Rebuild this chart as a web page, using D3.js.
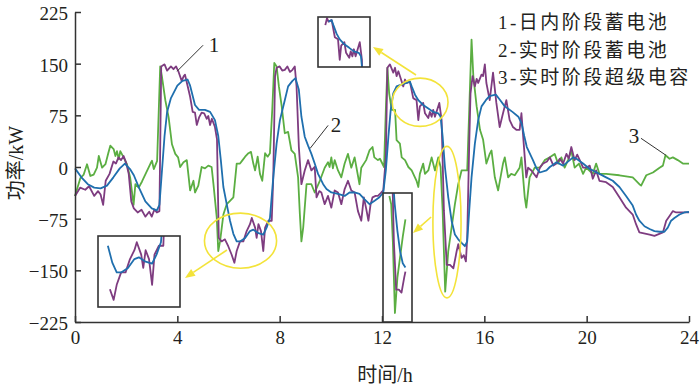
<!DOCTYPE html>
<html>
<head>
<meta charset="utf-8">
<script src="https://cdn.jsdelivr.net/npm/d3@7"></script>
<style>
  body { margin: 0; background: #fff; }
  svg { display: block; }
  text { font-family: "Liberation Serif", "Noto Sans CJK SC", serif; fill: #231f20; }
</style>
</head>
<body>
<div id="chart"></div>
<script>
// ---- data (hour, kW) ----
const hourTicks = [0, 4, 8, 12, 16, 20, 24];
const powerTicks = [-225, -150, -75, 0, 75, 150, 225];
const seriesNames = ['1-日内阶段蓄电池', '2-实时阶段蓄电池', '3-实时阶段超级电容'];

// 1 - intraday battery (purple)
const battIntraday = [[0,-42],[0.2,-30],[0.4,-33],[0.55,-28],[0.75,-42],[0.9,-35],[1.0,-40],[1.1,-55],[1.2,-20],[1.35,-10],[1.5,8],[1.6,5],[1.7,14],[1.8,10],[1.9,16],[2.0,6],[2.1,-10],[2.2,-50],[2.3,-60],[2.45,-66],[2.6,-62],[2.75,-72],[2.9,-65],[3.0,-72],[3.1,-62],[3.2,-66],[3.3,-64],[3.37,146],[3.5,149],[3.6,140],[3.75,146],[3.85,142],[3.95,146],[4.05,138],[4.17,125],[4.25,132],[4.3,134],[4.4,118],[4.5,102],[4.6,80],[4.69,79],[4.76,61],[4.85,72],[4.95,79],[5.05,78],[5.15,70],[5.21,74],[5.28,61],[5.35,70],[5.47,58],[5.55,40],[5.62,-103],[5.73,-108],[5.86,-105],[5.99,-115],[6.12,-127],[6.23,-139],[6.32,-122],[6.45,-108],[6.58,-108],[6.71,-93],[6.84,-83],[6.91,-74],[7.04,-88],[7.1,-103],[7.17,-83],[7.27,-93],[7.36,-122],[7.43,-88],[7.56,-78],[7.69,-78],[7.75,-15],[7.82,132],[7.88,144],[8.0,146],[8.1,140],[8.2,141],[8.3,146],[8.4,138],[8.5,141],[8.59,146],[8.66,117],[8.75,29],[8.85,-25],[8.98,-5],[9.11,10],[9.24,-5],[9.37,0],[9.44,-44],[9.55,-35],[9.63,-37],[9.76,-54],[9.89,-42],[10.02,-59],[10.15,-34],[10.28,-37],[10.41,-54],[10.54,-32],[10.67,-20],[10.8,-34],[10.93,-37],[11.06,-64],[11.19,-78],[11.29,-44],[11.38,-60],[11.47,-78],[11.55,-55],[11.63,-44],[11.75,-42],[11.84,-42],[11.95,-38],[12.05,-34],[12.15,14],[12.21,144],[12.31,149],[12.44,137],[12.51,144],[12.57,132],[12.64,139],[12.7,132],[12.83,117],[12.9,127],[12.96,122],[13.09,124],[13.22,100],[13.35,97],[13.42,68],[13.48,88],[13.61,93],[13.68,78],[13.81,71],[13.87,80],[13.94,73],[14.0,83],[14.07,73],[14.24,93],[14.33,68],[14.37,10],[14.42,-63],[14.53,-142],[14.66,-142],[14.79,-147],[14.92,-122],[14.98,-112],[15.11,-132],[15.2,-128],[15.28,-137],[15.33,-103],[15.41,34],[15.46,107],[15.54,132],[15.63,117],[15.7,128],[15.76,122],[15.89,134],[15.95,132],[16.02,149],[16.08,122],[16.21,97],[16.34,137],[16.47,93],[16.6,58],[16.73,78],[16.86,97],[16.99,68],[17.12,58],[17.25,54],[17.38,54],[17.45,78],[17.58,14],[17.64,-15],[17.71,-1],[17.84,-5],[18.04,-15],[18.17,-1],[18.3,5],[18.45,8],[18.56,14],[18.7,2],[18.82,5],[18.95,12],[19.08,5],[19.21,19],[19.3,12],[19.4,29],[19.53,10],[19.63,18],[19.73,10],[19.86,-1],[19.98,-1],[20.12,2],[20.24,-17],[20.37,-5],[20.5,-20],[20.76,-22],[21.02,-29],[21.28,-44],[21.54,-59],[21.8,-69],[21.93,-83],[22.06,-95],[22.46,-98],[22.65,-100],[22.98,-95],[23.11,-78],[23.24,-71],[23.37,-64],[23.5,-66],[23.63,-66],[24,-66]];

// 2 - real-time battery (blue)
const battRealtime = [[0,-2],[0.25,-15],[0.5,-25],[0.75,-30],[1.0,-31],[1.25,-27],[1.5,-15],[1.75,-2],[1.95,5],[2.15,-3],[2.3,-12],[2.5,-30],[2.75,-50],[3.0,-60],[3.2,-63],[3.3,-55],[3.4,-5],[3.5,45],[3.6,80],[3.75,100],[4.0,118],[4.2,125],[4.4,127],[4.5,118],[4.69,90],[4.85,83],[5.08,83],[5.28,80],[5.47,68],[5.6,45],[5.7,10],[5.8,-29],[5.93,-54],[6.06,-78],[6.19,-97],[6.32,-108],[6.45,-108],[6.65,-103],[6.84,-93],[6.97,-91],[7.17,-96],[7.36,-98],[7.49,-88],[7.62,-74],[7.75,-15],[7.88,34],[8.01,68],[8.2,97],[8.33,117],[8.5,125],[8.62,129],[8.75,112],[8.85,73],[8.98,44],[9.11,31],[9.24,19],[9.37,5],[9.5,-10],[9.7,-25],[9.83,-32],[10.02,-37],[10.28,-39],[10.54,-42],[10.73,-37],[10.93,-37],[11.12,-39],[11.32,-47],[11.51,-54],[11.71,-49],[11.9,-44],[12.05,-37],[12.15,-5],[12.25,44],[12.34,83],[12.44,107],[12.57,117],[12.7,119],[12.96,122],[13.09,124],[13.16,117],[13.29,105],[13.42,97],[13.61,90],[13.81,85],[14.0,80],[14.2,78],[14.29,73],[14.37,44],[14.46,0],[14.59,-44],[14.72,-78],[14.85,-98],[14.98,-105],[15.11,-110],[15.24,-115],[15.33,-108],[15.41,-63],[15.5,-15],[15.63,34],[15.76,68],[15.89,88],[16.06,97],[16.2,103],[16.45,105],[16.6,98],[16.8,88],[17.1,80],[17.33,73],[17.46,63],[17.56,45],[17.66,29],[17.9,10],[18.04,-2],[18.17,-8],[18.43,-5],[18.56,0],[18.82,7],[19.08,2],[19.34,10],[19.47,14],[19.6,12],[19.86,5],[20.12,-3],[20.24,-5],[20.5,-10],[20.76,-15],[21.02,-20],[21.28,-29],[21.54,-42],[21.8,-56],[21.93,-69],[22.06,-78],[22.26,-86],[22.46,-90],[22.65,-93],[22.85,-94],[23.04,-94],[23.17,-88],[23.3,-78],[23.43,-74],[23.63,-69],[23.82,-66],[24,-65]];

// 3 - real-time supercapacitor (green)
const superCap = [[0,-42],[0.21,-16],[0.34,-11],[0.47,4],[0.6,-13],[0.73,-11],[0.86,-1],[0.93,16],[1.06,-1],[1.19,4],[1.3,20],[1.38,31],[1.51,26],[1.58,16],[1.64,23],[1.71,11],[1.77,23],[1.9,14],[2.03,4],[2.16,-16],[2.29,-55],[2.36,-25],[2.49,-30],[2.62,-21],[2.81,-6],[2.95,5],[3.01,9],[3.08,-3],[3.21,9],[3.33,146],[3.4,131],[3.53,97],[3.66,72],[3.79,33],[3.92,19],[4.03,14],[4.11,0],[4.24,7],[4.37,10],[4.5,-34],[4.63,-20],[4.69,-37],[4.82,-27],[4.95,0],[5.08,-2],[5.21,2],[5.34,0],[5.41,-24],[5.54,-73],[5.6,-122],[5.67,-108],[5.8,-69],[5.93,-54],[6.06,-49],[6.19,-44],[6.32,5],[6.45,5],[6.55,10],[6.65,15],[6.78,20],[6.88,22],[6.97,5],[7.04,-5],[7.14,15],[7.23,-10],[7.32,-20],[7.43,20],[7.53,15],[7.62,20],[7.71,83],[7.79,151],[7.88,146],[7.97,117],[8.08,88],[8.2,49],[8.33,51],[8.46,24],[8.59,19],[8.72,-15],[8.79,-69],[8.85,-108],[8.92,-88],[9.05,-25],[9.24,-25],[9.37,-37],[9.57,-20],[9.76,-1],[9.89,7],[9.95,0],[10.02,14],[10.08,-2],[10.15,10],[10.28,-5],[10.41,-15],[10.54,5],[10.67,19],[10.8,-1],[10.93,14],[11.12,-25],[11.19,-1],[11.38,10],[11.51,24],[11.63,29],[11.7,14],[11.84,10],[11.92,12],[12.08,0],[12.15,83],[12.21,144],[12.28,107],[12.38,83],[12.51,83],[12.57,39],[12.7,34],[12.77,14],[12.9,10],[13.03,0],[13.16,-5],[13.35,-20],[13.42,-29],[13.48,-10],[13.61,5],[13.68,-10],[13.81,-5],[13.94,14],[14.07,-5],[14.2,14],[14.29,0],[14.37,-63],[14.47,-181],[14.59,-122],[14.72,-88],[14.85,-54],[14.98,-25],[15.11,-5],[15.33,-5],[15.41,83],[15.5,185],[15.57,132],[15.7,88],[15.83,54],[15.95,40],[16.08,5],[16.21,19],[16.28,24],[16.41,-15],[16.54,-34],[16.73,5],[16.8,14],[16.93,-15],[17.05,-10],[17.19,-12],[17.38,-1],[17.45,14],[17.58,-44],[17.64,-59],[17.77,-15],[17.97,-1],[18.17,-1],[18.36,10],[18.56,14],[18.75,19],[18.88,5],[19.01,14],[19.14,-1],[19.27,10],[19.4,24],[19.53,-1],[19.7,5],[19.86,-10],[19.98,-1],[20.24,-10],[20.37,5],[20.5,-10],[20.76,-10],[21.28,-12],[21.8,-15],[22.06,-25],[22.13,-27],[22.33,-12],[22.59,-8],[22.85,-1],[22.98,2],[23.08,17],[23.24,12],[23.37,14],[23.56,10],[23.76,5],[24,5]];

// circled regions: centre hour, centre kW, half-width (h), half-height (kW)
const circledRegions = [[6.47, -107, 1.41, 40], [13.49, 94, 1.09, 35], [14.54, -80, 0.55, 110]];
// number labels: hour, kW where the leader touches the curve
const labelPoints = [[3.99, 139], [9.19, 27], [23.1, 17]];

// ---- layout ----
const W = 700, H = 388;
const colors = ['#7e3c80', '#1f6fae', '#5bae42'];
const series = [battIntraday, battRealtime, superCap];
const drawOrder = [2, 0, 1];

const x = d3.scaleLinear().domain([0, 24]).range([75, 689]);
const y = d3.scaleLinear().domain([-225, 225]).range([322, 12]);

const svg = d3.select('#chart').append('svg').attr('width', W).attr('height', H);

const line = (sx, sy) => d3.line().x(d => sx(d[0])).y(d => sy(d[1]));

// main curves
drawOrder.forEach(i => {
  svg.append('path').datum(series[i])
    .attr('fill', 'none').attr('stroke', colors[i]).attr('stroke-width', 1.8)
    .attr('stroke-linejoin', 'round').attr('d', line(x, y));
});

// axes (ticks pointing inward)
const fmt = d => d < 0 ? '\u2212' + Math.abs(d) : String(d);
const yAxis = svg.append('g').attr('transform', `translate(${x(0)},0)`)
  .call(d3.axisLeft(y).tickValues(powerTicks).tickSize(-6).tickSizeOuter(0).tickPadding(7).tickFormat(fmt));
const xAxis = svg.append('g').attr('transform', `translate(0,${y(-225)})`)
  .call(d3.axisBottom(x).tickValues(hourTicks).tickSize(-6).tickSizeOuter(0).tickPadding(9));
[xAxis, yAxis].forEach(a => {
  a.selectAll('path,line').attr('stroke', '#333').attr('stroke-width', 1.5);
  a.selectAll('text').attr('font-size', 19).attr('fill', '#231f20')
    .style('font-family', '"Liberation Serif", serif');
});
yAxis.selectAll('text').attr('dy', '0.4em');

svg.append('text').attr('x', 385).attr('y', 382).attr('text-anchor', 'middle')
  .attr('font-size', 20).text('时间/h');
svg.append('text').attr('transform', 'translate(23,163) rotate(-90)').attr('text-anchor', 'middle')
  .attr('font-size', 20).text('功率/kW');

// legend text
svg.selectAll('.leg').data(seriesNames).enter().append('text')
  .attr('x', 498).attr('y', (d, i) => 29 + i * 27.5)
  .attr('font-size', 19).attr('letter-spacing', 2.5).text(d => d);

// number labels with leader lines
const labelOffsets = [[26, -26, 37, -19], [18, -23, 26, -16], [-25, -17, -32, -12]];
labelPoints.forEach((p, i) => {
  const px = x(p[0]), py = y(p[1]), o = labelOffsets[i];
  svg.append('line').attr('x1', px).attr('y1', py).attr('x2', px + o[0]).attr('y2', py + o[1])
    .attr('stroke', '#333').attr('stroke-width', 1);
  svg.append('text').attr('x', px + o[2]).attr('y', py + o[3]).attr('text-anchor', 'middle')
    .attr('font-size', 21).text(i + 1);
});

// yellow ellipses
const yellow = '#f3e33a';
svg.selectAll('.circ').data(circledRegions).enter().append('ellipse')
  .attr('cx', d => x(d[0])).attr('cy', d => y(d[1]))
  .attr('rx', d => x(d[2]) - x(0)).attr('ry', d => y(0) - y(d[3]))
  .attr('fill', 'none').attr('stroke', yellow).attr('stroke-width', 1.6);

// zoomed insets
const insets = [
  { box: [98, 236, 82, 71], hours: [5.77, 8.18], power: [-147, -67], span: [6.0, 7.75], keys: [0, 1], arrowFrom: [5.94, -120.5], tip: [87, 42] },
  { box: [318, 17, 52, 50], hours: [12.53, 14.66], power: [58, 128.5], span: [12.8, 14.42], keys: [0, 1], arrowFrom: [13.33, 133.5], tip: [55, 30] },
  { box: [383, 193, 29, 129], hours: [13.89, 15.3], power: [-196, 19], span: [14.1, 15.02], keys: [2, 0, 1], arrowFrom: [13.92, -72.6], tip: [30, 40] }
];

insets.forEach((ins, k) => {
  const [bx, by, bw, bh] = ins.box;
  const ix = d3.scaleLinear().domain(ins.hours).range([bx, bx + bw]);
  const iy = d3.scaleLinear().domain(ins.power).range([by + bh, by]);
  const clipId = 'clip' + k;
  svg.append('clipPath').attr('id', clipId).append('rect')
    .attr('x', bx).attr('y', by).attr('width', bw).attr('height', bh);
  svg.append('rect').attr('x', bx).attr('y', by).attr('width', bw).attr('height', bh)
    .attr('fill', '#fff');
  const g = svg.append('g').attr('clip-path', `url(#${clipId})`);
  ins.keys.forEach(i => {
    const pts = series[i].filter(d => d[0] >= ins.span[0] && d[0] <= ins.span[1]);
    g.append('path').datum(pts).attr('fill', 'none').attr('stroke', colors[i])
      .attr('stroke-width', 1.8).attr('stroke-linejoin', 'round').attr('d', line(ix, iy));
  });
  svg.append('rect').attr('x', bx).attr('y', by).attr('width', bw).attr('height', bh)
    .attr('fill', 'none').attr('stroke', '#333').attr('stroke-width', 1.6);

  // yellow arrow from circled region to the inset
  const x1 = x(ins.arrowFrom[0]), y1 = y(ins.arrowFrom[1]);
  const x2 = bx + ins.tip[0], y2 = by + ins.tip[1];
  const a = Math.atan2(y2 - y1, x2 - x1), L = 10, hw = 4;
  const hx = x2 - L * Math.cos(a), hy = y2 - L * Math.sin(a);
  svg.append('line').attr('x1', x1).attr('y1', y1).attr('x2', hx).attr('y2', hy)
    .attr('stroke', yellow).attr('stroke-width', 1.6);
  svg.append('path')
    .attr('d', `M${x2},${y2}L${hx + hw * Math.sin(a)},${hy - hw * Math.cos(a)}L${hx - hw * Math.sin(a)},${hy + hw * Math.cos(a)}Z`)
    .attr('fill', yellow);
});
</script>
</body>
</html>
